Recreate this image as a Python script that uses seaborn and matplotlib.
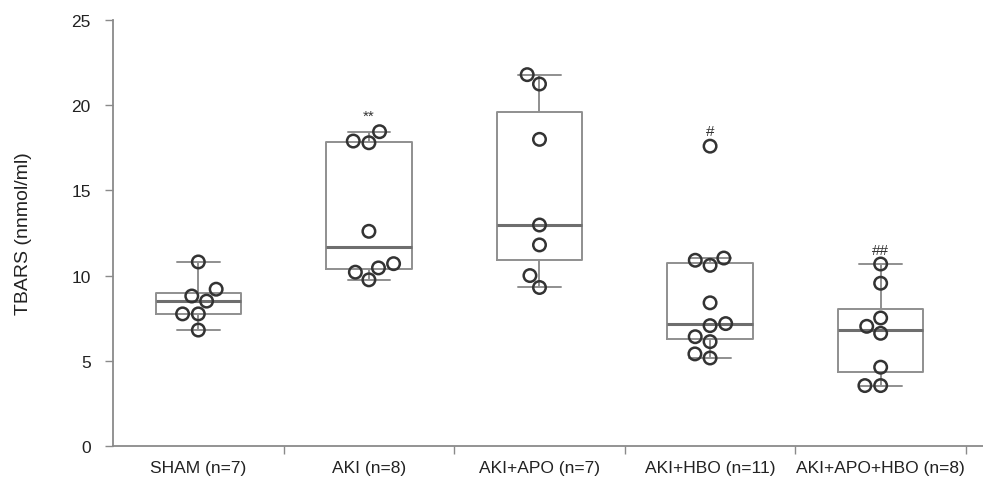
import pandas as pd
import numpy as np
import seaborn as sns
import matplotlib.pyplot as plt

# values
groups = ['SHAM (n=7)', 'AKI (n=8)', 'AKI+APO (n=7)', 'AKI+HBO (n=11)', 'AKI+APO+HBO (n=8)']
sham = [10.8, 9.2, 8.8, 8.5, 7.75, 7.75, 6.8]
aki = [18.45, 17.9, 17.8, 12.6, 10.7, 10.45, 10.2, 9.75]
aki_apo = [21.8, 21.25, 18.0, 12.97, 11.8, 10.0, 9.3]
aki_hbo = [17.6, 11.03, 10.9, 10.6, 8.4, 7.18, 7.06, 6.41, 6.12, 5.4, 5.16]
aki_apo_hbo = [10.68, 9.55, 7.51, 7.02, 6.61, 4.62, 3.54, 3.54]
marks = ['', '**', '', '#', '##']
mark_y = [0, 19.4, 0, 18.5, 11.5]

values = [sham, aki, aki_apo, aki_hbo, aki_apo_hbo]
df = pd.DataFrame({
    'group': np.repeat(groups, [len(v) for v in values]),
    'TBARS': np.concatenate(values),
})

sns.set_style('white')
plt.rcParams['font.family'] = ['Liberation Sans', 'DejaVu Sans']

fig = plt.figure(figsize=(9.83, 4.81), dpi=100)
ax = fig.add_axes([0.115, 0.071, 0.885, 0.885])

sns.boxplot(data=df, x='group', y='TBARS', order=groups, ax=ax, width=0.5,
            showfliers=False, fill=False, color='#8f8f8f', linecolor='#8f8f8f',
            linewidth=1.4, medianprops=dict(color='#6e6e6e', linewidth=2.2))
sns.swarmplot(data=df, x='group', y='TBARS', order=groups, ax=ax, size=9,
              color='#333333')
for coll in ax.collections:
    coll.set_facecolor('none')
    coll.set_edgecolor('#333333')
    coll.set_linewidth(1.8)

for i, m in enumerate(marks):
    if m:
        ax.text(i, mark_y[i], m, ha='center', va='center', fontsize=11, color='#333333')

ax.set_ylim(0, 25)
ax.set_xlim(-0.5, 4.6)
ax.set_yticks([0, 5, 10, 15, 20, 25])
ax.set_xlabel('')
ax.set_ylabel('TBARS (nnmol/ml)', fontsize=14, color='#222222', labelpad=28)

# category separators as minor ticks on the x axis
ax.set_xticks(np.arange(len(groups)) + 0.5, minor=True)
ax.tick_params(axis='x', which='major', bottom=True, length=0, labelsize=12.5,
               colors='#222222', pad=10)
ax.tick_params(axis='x', which='minor', bottom=True, length=6, width=1,
               color='#8a8a8a', direction='out')
ax.tick_params(axis='y', left=True, length=6, width=1, color='#8a8a8a', direction='out',
               labelsize=12.5, labelcolor='#222222', pad=10)

for s in ['top', 'right']:
    ax.spines[s].set_visible(False)
for s in ['left', 'bottom']:
    ax.spines[s].set_color('#8a8a8a')
    ax.spines[s].set_linewidth(1.3)

fig.savefig('out.png', dpi=100)
